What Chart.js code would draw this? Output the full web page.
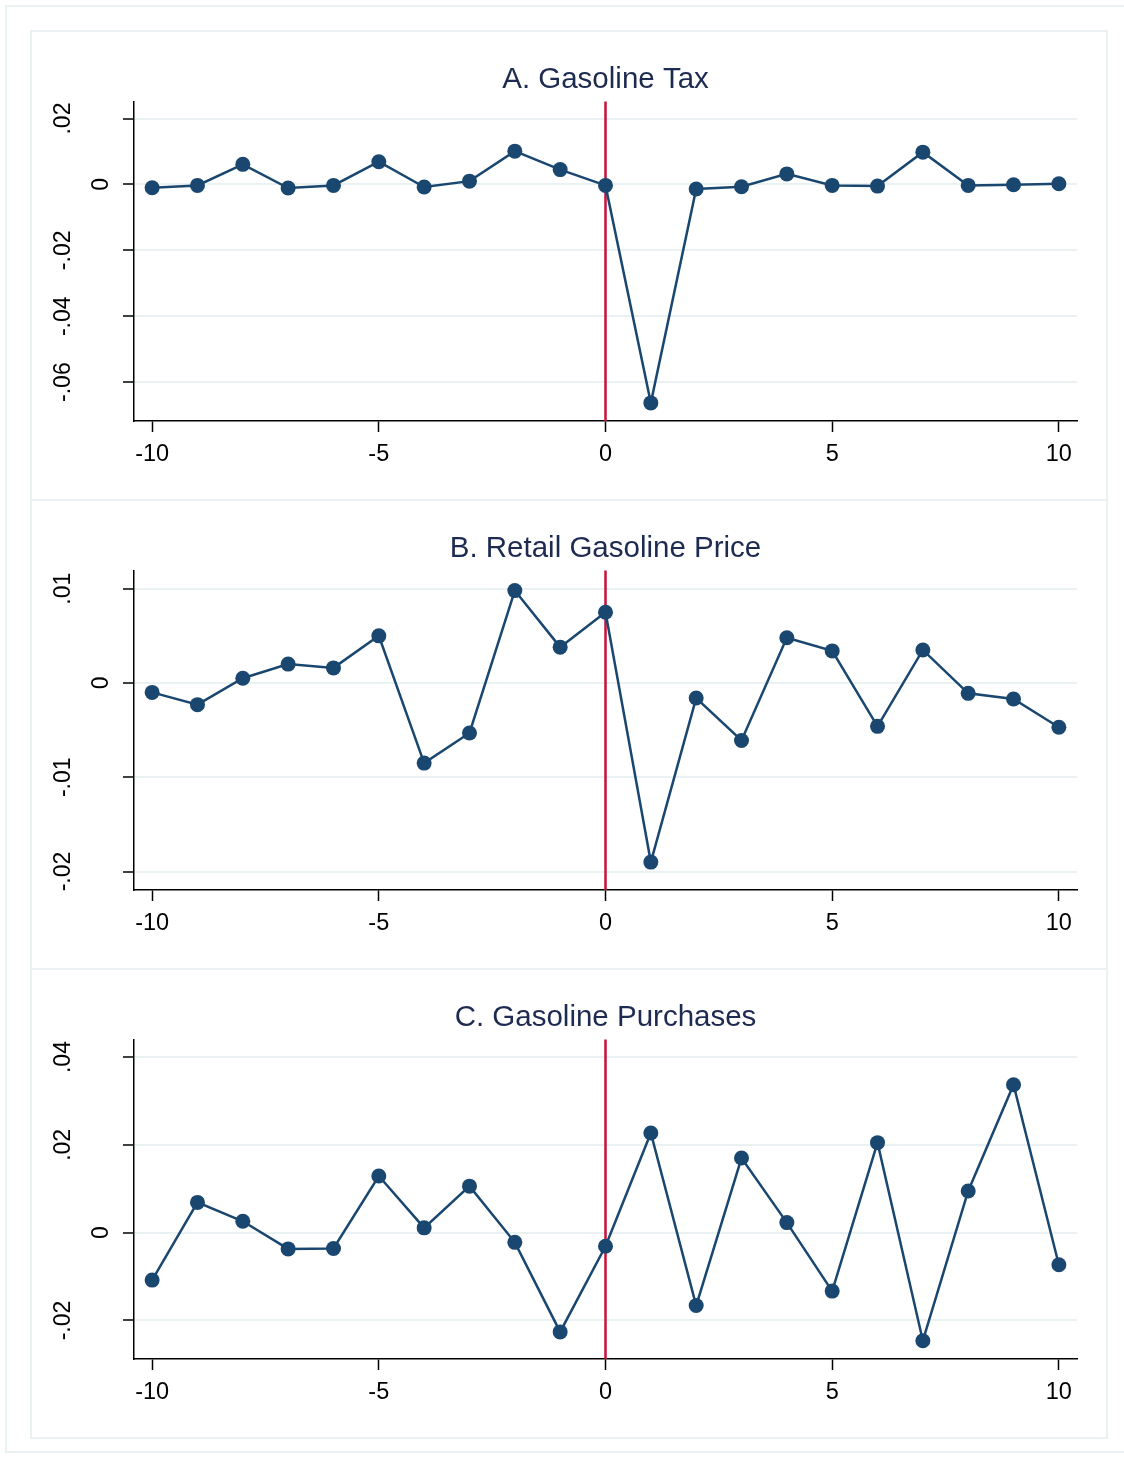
<!DOCTYPE html>
<html>
<head>
<meta charset="utf-8">
<script src="https://cdn.jsdelivr.net/npm/chart.js@4.4.0/dist/chart.umd.min.js"></script>
<style>
  body { margin: 0; background: #fff; }
  #frame { position: absolute; left: 5px; top: 5px; width: 1140px; height: 1448px; border: 2px solid #eaf1f3; box-sizing: border-box; }
  .box { position: absolute; left: 30px; width: 1078px; height: 471px; border: 2px solid #eaf1f3; box-sizing: border-box; }
  canvas { position: absolute; left: 31px; }
</style>
</head>
<body>
<div id="frame"></div>
<div class="box" style="top:30px"></div>
<div class="box" style="top:499px"></div>
<div class="box" style="top:968px"></div>
<canvas id="chartA" width="1076" height="469" style="top:31px"></canvas>
<canvas id="chartB" width="1076" height="469" style="top:500px"></canvas>
<canvas id="chartC" width="1076" height="469" style="top:969px"></canvas>
<script>
// event time, relative to the tax change
const periods = [-10, -9, -8, -7, -6, -5, -4, -3, -2, -1, 0, 1, 2, 3, 4, 5, 6, 7, 8, 9, 10];
const xTicks = [-10, -5, 0, 5, 10];
const eventPeriod = 0;

const taxValues = [-0.0010, -0.0003, 0.0061, -0.0011, -0.0003, 0.0069, -0.0008, 0.0010, 0.0101, 0.0045,
    -0.0003, -0.0663, -0.0014, -0.0007, 0.0032, -0.0003, -0.0005, 0.0098, -0.0003, -0.0001, 0.0002];
const priceValues = [-0.0010, -0.0023, 0.0005, 0.0020, 0.0016, 0.0050, -0.0085, -0.0053, 0.0098, 0.0038,
    0.0075, -0.0190, -0.0016, -0.0061, 0.0048, 0.0034, -0.0046, 0.0035, -0.0011, -0.0017, -0.0047];
const purchaseValues = [-0.0108, 0.0069, 0.0026, -0.0037, -0.0036, 0.0129, 0.0011, 0.0106, -0.0022, -0.0226,
    -0.0031, 0.0227, -0.0166, 0.0170, 0.0023, -0.0133, 0.0205, -0.0246, 0.0095, 0.0337, -0.0073];

const taxTicks = [-0.06, -0.04, -0.02, 0, 0.02];
const taxTickLabels = ['-.06', '-.04', '-.02', '0', '.02'];
const priceTicks = [-0.02, -0.01, 0, 0.01];
const priceTickLabels = ['-.02', '-.01', '0', '.01'];
const purchaseTicks = [-0.02, 0, 0.02, 0.04];
const purchaseTickLabels = ['-.02', '0', '.02', '.04'];

const fontFamily = '"Liberation Sans", Arial, sans-serif';
const navy = '#1a476f';

// rotated y labels, Stata style ("0" sits nearer the axis than the decimals)
function yLabelPlugin(ticks, labels) {
    return {
        id: 'yLabels',
        afterDraw(chart) {
            const scale = chart.scales.y;
            const ctx = chart.ctx;
            ctx.save();
            ctx.fillStyle = '#000';
            ctx.font = '23px ' + fontFamily;
            ctx.textAlign = 'center';
            ctx.textBaseline = 'middle';
            ticks.forEach((v, i) => {
                const gap = labels[i] === '0' ? 32 : 70;
                ctx.save();
                ctx.translate(chart.chartArea.left - gap, scale.getPixelForValue(v));
                ctx.rotate(-Math.PI / 2);
                ctx.fillText(labels[i], 0, 0);
                ctx.restore();
            });
            ctx.restore();
        }
    };
}

// red line at the event
const eventLine = {
    id: 'eventLine',
    beforeDatasetsDraw(chart) {
        const x = chart.scales.x.getPixelForValue(eventPeriod);
        const ctx = chart.ctx;
        ctx.save();
        ctx.strokeStyle = '#c8103a';
        ctx.lineWidth = 2.5;
        ctx.beginPath();
        ctx.moveTo(x, chart.chartArea.top);
        ctx.lineTo(x, chart.chartArea.bottom);
        ctx.stroke();
        ctx.restore();
    }
};

function makePanel(id, title, values, ticks, labels, yMin, yMax) {
    new Chart(document.getElementById(id).getContext('2d'), {
        type: 'line',
        data: {
            datasets: [{
                data: periods.map((p, i) => ({ x: p, y: values[i] })),
                borderColor: navy,
                backgroundColor: navy,
                borderWidth: 2.5,
                pointRadius: 7.5,
                pointHoverRadius: 7.5,
                pointBorderWidth: 0,
                tension: 0
            }]
        },
        options: {
            responsive: false,
            animation: false,
            devicePixelRatio: 1,
            layout: { padding: { left: 0, right: 30, top: 0, bottom: 0 } },
            plugins: {
                legend: { display: false },
                tooltip: { enabled: false },
                title: {
                    display: true,
                    text: title,
                    fullSize: false,
                    color: '#1e2b50',
                    font: { family: fontFamily, size: 29.5, weight: 'normal' },
                    padding: { top: 31, bottom: 4 }
                }
            },
            scales: {
                x: {
                    type: 'linear',
                    min: -10.4,
                    max: 10.4,
                    afterBuildTicks: s => { s.ticks = xTicks.map(v => ({ value: v })); },
                    afterFit: s => { s.height = 79; },
                    grid: { drawOnChartArea: false, tickLength: 11, tickColor: '#000', tickWidth: 1.5 },
                    border: { color: '#000', width: 1.5 },
                    ticks: {
                        color: '#000',
                        font: { family: fontFamily, size: 23.5 },
                        padding: 8.5,
                        maxRotation: 0,
                        autoSkip: false,
                        callback: v => String(v)
                    }
                },
                y: {
                    min: yMin,
                    max: yMax,
                    afterBuildTicks: s => { s.ticks = ticks.map(v => ({ value: v })); },
                    afterFit: s => { s.width = 103; },
                    grid: { color: '#eaf1f3', lineWidth: 2, tickLength: 11, tickColor: '#000', tickWidth: 1.5 },
                    border: { color: '#000', width: 1.5 },
                    ticks: { display: false }
                }
            }
        },
        plugins: [yLabelPlugin(ticks, labels), eventLine]
    });
}

makePanel('chartA', 'A. Gasoline Tax', taxValues, taxTicks, taxTickLabels, -0.0718, 0.0252);
makePanel('chartB', 'B. Retail Gasoline Price', priceValues, priceTicks, priceTickLabels, -0.02196, 0.01194);
makePanel('chartC', 'C. Gasoline Purchases', purchaseValues, purchaseTicks, purchaseTickLabels, -0.02877, 0.04402);
</script>
</body>
</html>
